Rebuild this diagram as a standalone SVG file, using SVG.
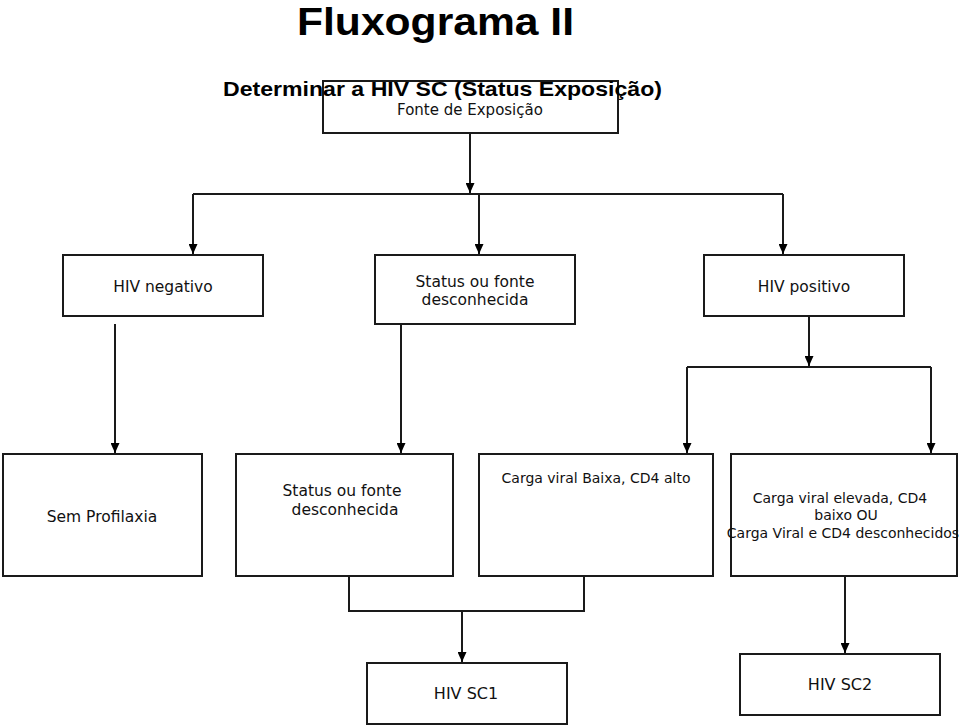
<svg xmlns="http://www.w3.org/2000/svg" width="960" height="727" viewBox="0 0 960 727">
<style>
  .box { fill: #ffffff; stroke: #1a1a1a; stroke-width: 2; }
  .lbl { font-family: "DejaVu Sans", "Noto Sans", sans-serif; fill: #111; text-anchor: middle; }
  .conn { fill: none; stroke: #1a1a1a; stroke-width: 2; }
  .title { font-family: "Liberation Sans", Arial, sans-serif; font-weight: bold; fill: #000; }
</style>
<defs>
  <marker id="arr" viewBox="0 0 10 9" refX="10" refY="4.5" markerWidth="10" markerHeight="9" markerUnits="userSpaceOnUse" orient="auto">
    <path d="M0,0 L10,4.5 L0,9 z" fill="#000"/>
  </marker>
</defs>
<rect width="960" height="727" fill="#ffffff"/>

<g id="connectors">
  <path class="conn" d="M470,133 V193" marker-end="url(#arr)"/>
  <path class="conn" d="M193,194 H783"/>
  <path class="conn" d="M193,194 V254" marker-end="url(#arr)"/>
  <path class="conn" d="M479,194 V254" marker-end="url(#arr)"/>
  <path class="conn" d="M783,194 V254" marker-end="url(#arr)"/>
  <path class="conn" d="M115,324 V453" marker-end="url(#arr)"/>
  <path class="conn" d="M401,324 V453" marker-end="url(#arr)"/>
  <path class="conn" d="M809,316 V366" marker-end="url(#arr)"/>
  <path class="conn" d="M687,367 H931"/>
  <path class="conn" d="M687,367 V453" marker-end="url(#arr)"/>
  <path class="conn" d="M931,367 V453" marker-end="url(#arr)"/>
  <path class="conn" d="M349,576 V611 H584 V576"/>
  <path class="conn" d="M462,611 V662" marker-end="url(#arr)"/>
  <path class="conn" d="M845,576 V653" marker-end="url(#arr)"/>
</g>

<g id="fonte">
  <rect class="box" x="323" y="81" width="295" height="52"/>
  <text class="lbl" x="470" y="115" font-size="15">Fonte de Exposição</text>
</g>

<g id="title">
  <text class="title" x="297" y="35" font-size="38" textLength="277" lengthAdjust="spacingAndGlyphs">Fluxograma II</text>
  <text class="title" x="223" y="96" font-size="21" textLength="439" lengthAdjust="spacingAndGlyphs">Determinar a HIV SC (Status Exposição)</text>
</g>

<g id="hiv-negativo">
  <rect class="box" x="63" y="255" width="200" height="61"/>
  <text class="lbl" x="163" y="292" font-size="15.5">HIV negativo</text>
</g>

<g id="status-fonte-1">
  <rect class="box" x="375" y="255" width="200" height="69"/>
  <text class="lbl" x="475" y="287" font-size="15.5">Status ou fonte</text>
  <text class="lbl" x="475" y="305" font-size="15.5">desconhecida</text>
</g>

<g id="hiv-positivo">
  <rect class="box" x="704" y="255" width="200" height="61"/>
  <text class="lbl" x="804" y="292" font-size="15.5">HIV positivo</text>
</g>

<g id="sem-profilaxia">
  <rect class="box" x="3" y="454" width="199" height="122"/>
  <text class="lbl" x="102" y="522" font-size="15.5">Sem Profilaxia</text>
</g>

<g id="status-fonte-2">
  <rect class="box" x="236" y="454" width="217" height="122"/>
  <text class="lbl" x="342" y="496" font-size="15.5">Status ou fonte</text>
  <text class="lbl" x="345" y="515" font-size="15.5">desconhecida</text>
</g>

<g id="carga-baixa">
  <rect class="box" x="479" y="454" width="234" height="122"/>
  <text class="lbl" x="596" y="483" font-size="14">Carga viral Baixa, CD4 alto</text>
</g>

<g id="carga-elevada">
  <rect class="box" x="731" y="454" width="226" height="122"/>
  <text class="lbl" x="840" y="503" font-size="14">Carga viral elevada, CD4</text>
  <text class="lbl" x="846" y="520" font-size="14">baixo OU</text>
  <text class="lbl" x="843" y="538" font-size="14">Carga Viral e CD4 desconhecidos</text>
</g>

<g id="hiv-sc1">
  <rect class="box" x="367" y="663" width="200" height="61"/>
  <text class="lbl" x="466" y="699" font-size="16">HIV SC1</text>
</g>

<g id="hiv-sc2">
  <rect class="box" x="740" y="654" width="200" height="61"/>
  <text class="lbl" x="840" y="690" font-size="16">HIV SC2</text>
</g>
</svg>
